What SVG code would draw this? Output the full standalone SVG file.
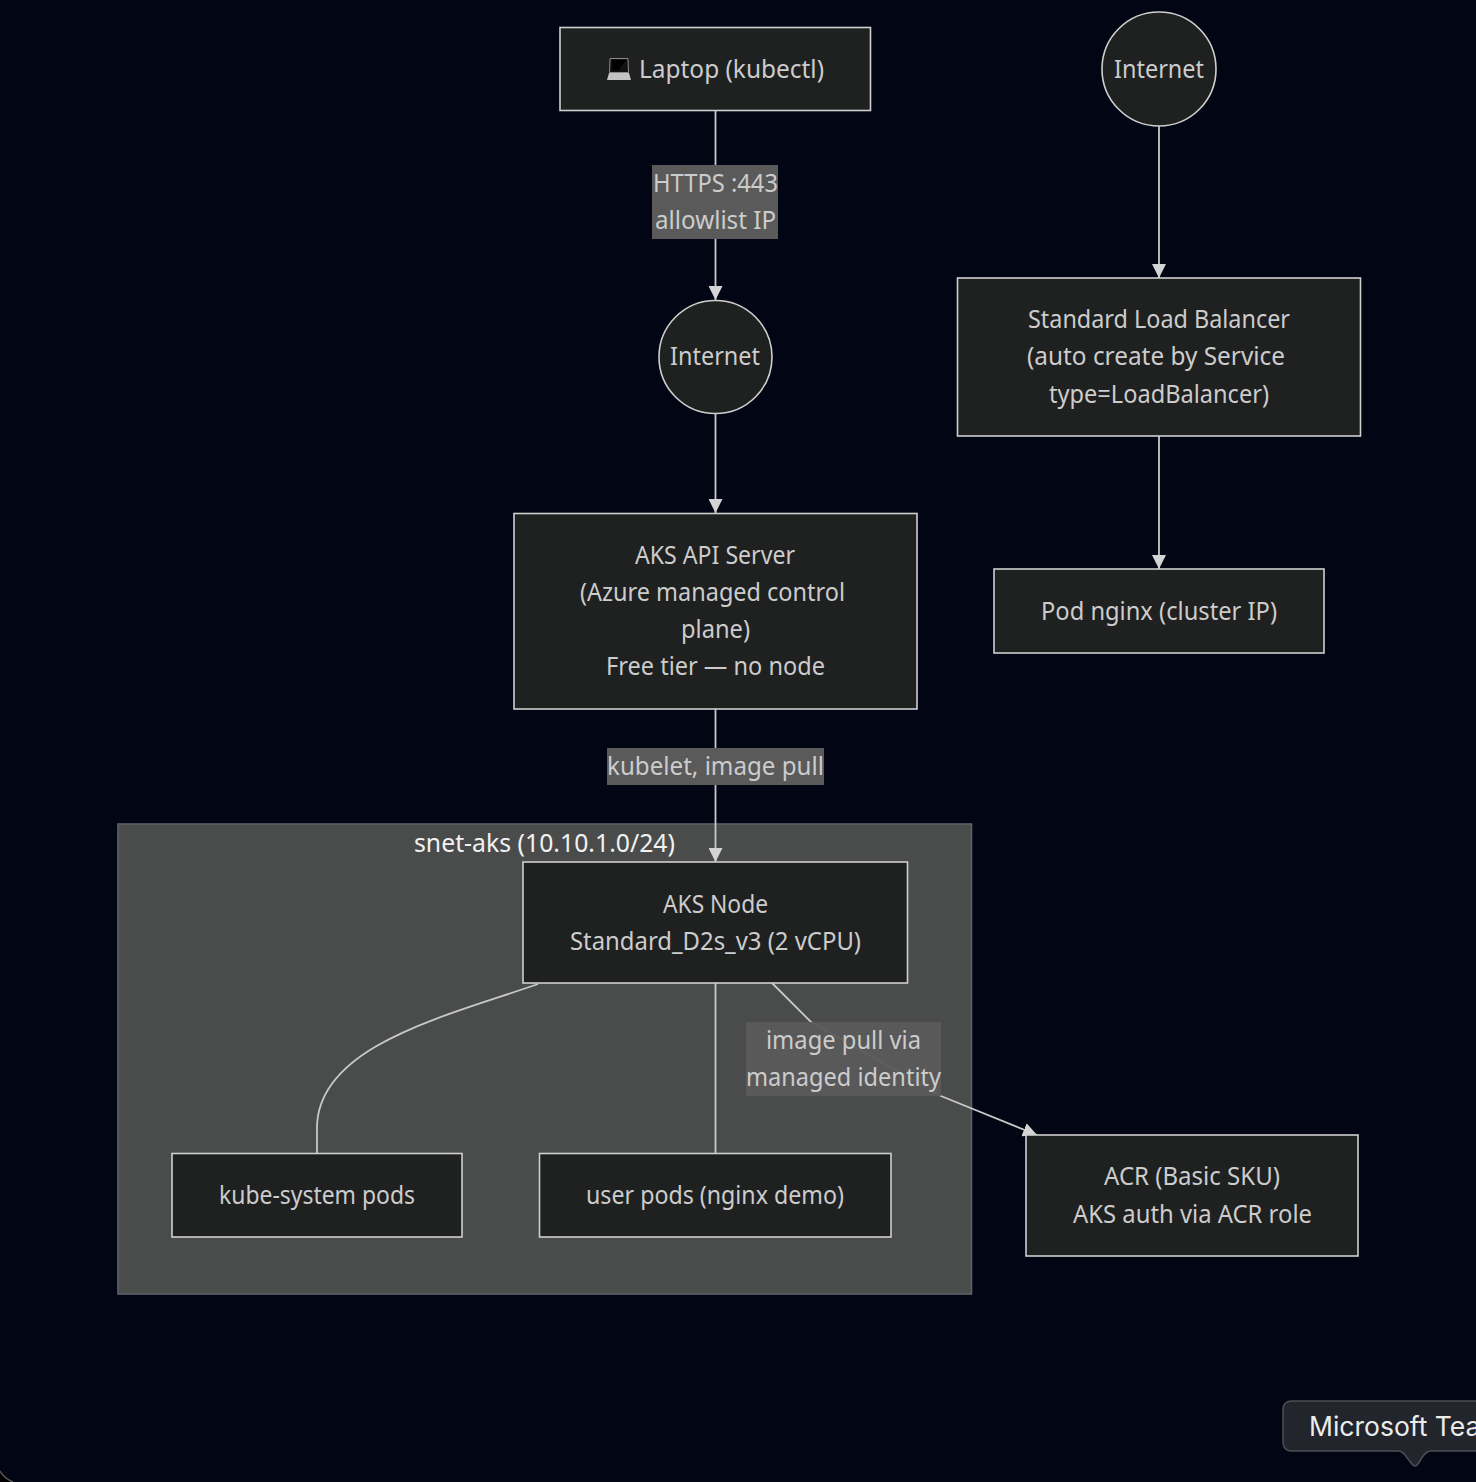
<svg xmlns="http://www.w3.org/2000/svg" width="1476" height="1482" viewBox="0 0 1476 1482">
<style>
.n{fill:#1f2020;stroke:#cfcfcf;stroke-width:1.6}
.t{font-family:"Noto Sans","Open Sans",sans-serif;font-size:25px;fill:#cccccc;text-anchor:middle}
.e{fill:none;stroke:#c8c8c8;stroke-width:1.8}
.l{fill:#5a5a5a}
</style>
<defs>
<marker id="arrow" viewBox="0 0 10 10" refX="10" refY="5" markerWidth="14" markerHeight="14" markerUnits="userSpaceOnUse" orient="auto"><path d="M0 0L10 5L0 10z" fill="#d4d4d4"/></marker>
</defs>
<rect width="1476" height="1482" fill="#020614"/>
<g id="cluster-snet-aks">
<rect x="118" y="824" width="853.5" height="470" fill="#4a4c4b" stroke="#5c6168" stroke-width="1.6"/>
<text class="t" x="544.5" y="851.5" textLength="261" lengthAdjust="spacingAndGlyphs" style="fill:#f2f2f2">snet-aks (10.10.1.0/24)</text>
</g>
<g id="connectors">
<path class="e" marker-end="url(#arrow)" d="M715.500 111V300"/>
<path class="e" marker-end="url(#arrow)" d="M715.500 414V513"/>
<path class="e" marker-end="url(#arrow)" d="M715.500 709V862"/>
<path class="e" d="M538 984C450 1015 317 1045 317 1128V1153"/>
<path class="e" d="M715.500 983V1153"/>
<path class="e" marker-end="url(#arrow)" d="M772 983L811 1022L941 1096L1037 1135"/>
<path class="e" marker-end="url(#arrow)" d="M1159 126V278"/>
<path class="e" marker-end="url(#arrow)" d="M1159 436V569"/>
</g>
<g id="edge-label-https"><rect class="l" x="652" y="165" width="126" height="74"/><text class="t" x="715.5" y="192" textLength="125" lengthAdjust="spacingAndGlyphs">HTTPS :443</text><text class="t" x="715.5" y="229" textLength="121" lengthAdjust="spacingAndGlyphs">allowlist IP</text></g>
<g id="edge-label-kubelet"><rect class="l" x="607" y="748" width="217" height="37"/><text class="t" x="715.5" y="775" textLength="217" lengthAdjust="spacingAndGlyphs">kubelet, image pull</text></g>
<g id="edge-label-image-pull"><rect class="l" x="746" y="1022" width="195" height="74" fill-opacity=".95"/><text class="t" x="843.5" y="1049" textLength="155" lengthAdjust="spacingAndGlyphs">image pull via</text><text class="t" x="843.5" y="1086" textLength="195" lengthAdjust="spacingAndGlyphs">managed identity</text></g>
<g id="node-laptop"><rect class="n" x="560" y="27.5" width="310.5" height="83"/>
<g><path d="M609.500 59h19v13h-19z" fill="#111"/><path d="M610 58.500h18l0.500 14h-19z" fill="none" stroke="#8a8a8a"/><path d="M612 60h14l-7 10h-7z" fill="#000"/><path d="M609 73h20l2 7h-24z" fill="#c4c4c4"/></g>
<text class="t" x="731.5" y="78" textLength="185" lengthAdjust="spacingAndGlyphs">Laptop (kubectl)</text></g>
<g id="node-internet-a"><circle class="n" cx="715.500" cy="357" r="56.500"/><text class="t" x="715" y="365" textLength="90" lengthAdjust="spacingAndGlyphs">Internet</text></g>
<g id="node-api"><rect class="n" x="514" y="513.500" width="403" height="195.500"/>
<text class="t" x="715" y="564" textLength="160" lengthAdjust="spacingAndGlyphs">AKS API Server</text><text class="t" x="712.5" y="601" textLength="265" lengthAdjust="spacingAndGlyphs">(Azure managed control</text><text class="t" x="715.5" y="638" textLength="69" lengthAdjust="spacingAndGlyphs">plane)</text><text class="t" x="715.5" y="675" textLength="219" lengthAdjust="spacingAndGlyphs">Free tier — no node</text></g>
<g id="node-aks"><rect class="n" x="523" y="862" width="384.500" height="121"/><text class="t" x="715.5" y="913" textLength="105" lengthAdjust="spacingAndGlyphs">AKS Node</text><text class="t" x="715.5" y="950" textLength="291" lengthAdjust="spacingAndGlyphs">Standard_D2s_v3 (2 vCPU)</text></g>
<g id="node-kube-system"><rect class="n" x="172" y="1153.500" width="290" height="83.500"/><text class="t" x="317" y="1204" textLength="196" lengthAdjust="spacingAndGlyphs">kube-system pods</text></g>
<g id="node-user-pods"><rect class="n" x="539.500" y="1153.500" width="351.500" height="83.500"/><text class="t" x="715" y="1204" textLength="258" lengthAdjust="spacingAndGlyphs">user pods (nginx demo)</text></g>
<g id="node-acr"><rect class="n" x="1026" y="1135" width="332" height="121"/><text class="t" x="1192" y="1185" textLength="176" lengthAdjust="spacingAndGlyphs">ACR (Basic SKU)</text><text class="t" x="1192.5" y="1223" textLength="239" lengthAdjust="spacingAndGlyphs">AKS auth via ACR role</text></g>
<g id="node-internet-b"><circle class="n" cx="1159" cy="69" r="57"/><text class="t" x="1159" y="78" textLength="90" lengthAdjust="spacingAndGlyphs">Internet</text></g>
<g id="node-lb"><rect class="n" x="957.500" y="278" width="403" height="158"/><text class="t" x="1159" y="328" textLength="262" lengthAdjust="spacingAndGlyphs">Standard Load Balancer</text><text class="t" x="1156" y="365" textLength="258" lengthAdjust="spacingAndGlyphs">(auto create by Service</text><text class="t" x="1159" y="403" textLength="220" lengthAdjust="spacingAndGlyphs">type=LoadBalancer)</text></g>
<g id="node-pod"><rect class="n" x="994" y="569" width="330" height="84"/><text class="t" x="1159" y="620" textLength="236" lengthAdjust="spacingAndGlyphs">Pod nginx (cluster IP)</text></g>
<g id="tooltip"><path d="M1292 1401H1490V1451H1431C1426 1451 1424 1455 1421 1459L1418 1464Q1415 1468 1412 1464L1408 1459C1405 1455 1403 1451 1398 1451H1292Q1283 1451 1283 1442V1410Q1283 1401 1292 1401Z" fill="#22252b" stroke="#4c4e52" stroke-width="1.500"/>
<text x="1309" y="1436" font-family="Inter,Roboto,sans-serif" font-size="26.5" fill="#ececec">Microsoft Tea</text></g>
<path d="M0 1482V1471Q4 1478 13 1482Z" fill="#000"/><path d="M0 1471Q4 1478 13 1482" fill="none" stroke="#55585c" stroke-width="1.500"/>
</svg>
